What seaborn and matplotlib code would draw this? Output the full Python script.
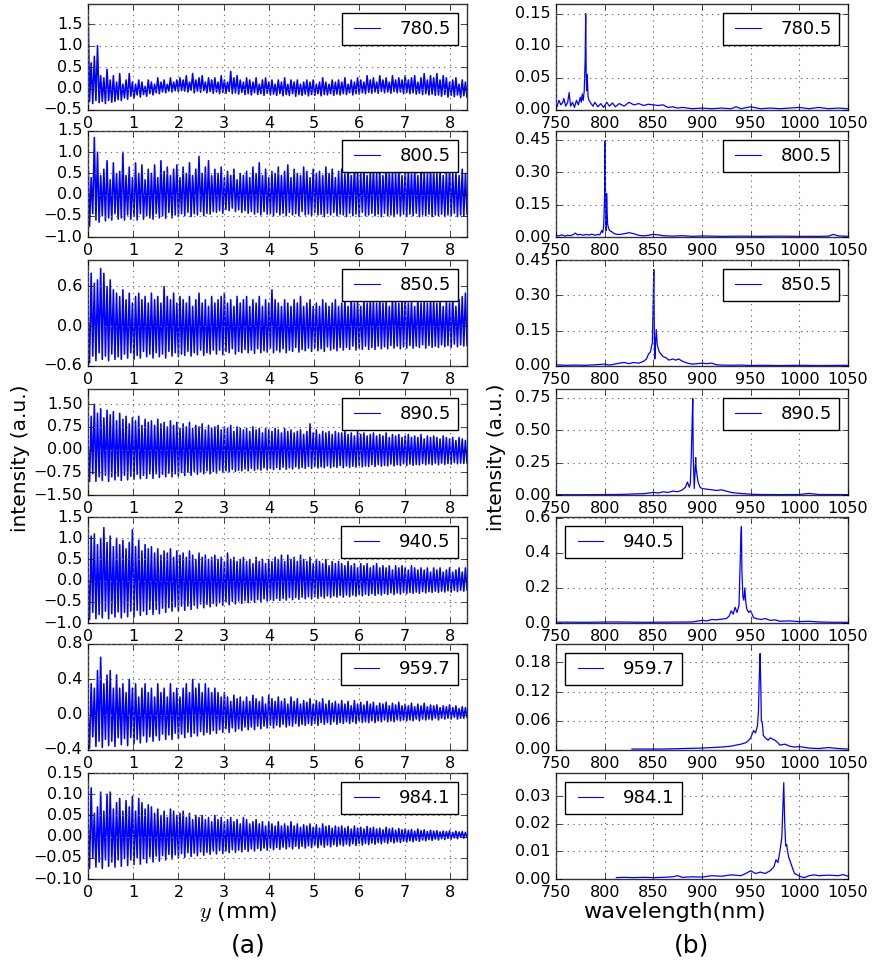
import numpy as np
import pandas as pd
import matplotlib
matplotlib.use("Agg")
import matplotlib.pyplot as plt
import seaborn as sns

plt.style.use("classic")
plt.rcParams.update({
    "figure.facecolor": "white",
    "savefig.facecolor": "white",
    "font.family": ["DejaVu Sans"],
    "mathtext.fontset": "cm",
    "axes.linewidth": 1.0,
    "axes.edgecolor": "#333333",
    "xtick.direction": "in",
    "ytick.direction": "in",
    "xtick.major.size": 4,
    "ytick.major.size": 4,
})

# ---------------------------------------------------------------------------
# data
# ---------------------------------------------------------------------------
labels = ["780.5", "800.5", "850.5", "890.5", "940.5", "959.7", "984.1"]
Y_MAX = 8.38  # scan length (mm)

# interferograms: successive fringe maxima / minima along the scan
peaks_780 = [1.93, 0.60, 0.75, 1.00, 0.30, 0.25, 0.45, 0.20, 0.30, 0.15,
             0.35, 0.10, 0.20, 0.35, 0.15, 0.10, 0.20, 0.15, 0.05, 0.20,
             0.15, 0.10, 0.25, 0.15, 0.20, 0.10, 0.25, 0.15, 0.20, 0.25,
             0.20, 0.30, 0.15, 0.35, 0.20, 0.25, 0.30, 0.15, 0.25, 0.20,
             0.25, 0.15, 0.30, 0.20, 0.15, 0.40, 0.25, 0.30, 0.20, 0.15,
             0.25, 0.20, 0.15, 0.25, 0.10, 0.20, 0.25, 0.15, 0.20, 0.10,
             0.20, 0.15, 0.25, 0.10, 0.20, 0.15, 0.20, 0.10, 0.15, 0.20,
             0.15, 0.20, 0.10, 0.15, 0.25, 0.15, 0.10, 0.20, 0.15, 0.20,
             0.15, 0.25, 0.10, 0.20, 0.15, 0.25, 0.20, 0.15, 0.30, 0.20,
             0.25, 0.15, 0.30, 0.20, 0.25, 0.15, 0.30, 0.20, 0.25, 0.20,
             0.30, 0.20, 0.25, 0.30, 0.15, 0.25, 0.35, 0.20, 0.30, 0.25,
             0.35, 0.20, 0.30, 0.25, 0.15, 0.20, 0.25, 0.10, 0.20, 0.15]
troughs_780 = [-0.30, -0.35, -0.28, -0.33, -0.30, -0.35, -0.28, -0.32, -0.30, -0.26,
               -0.28, -0.22, -0.25, -0.18, -0.22, -0.15, -0.20, -0.14, -0.18, -0.12,
               -0.15, -0.10, -0.12, -0.08, -0.10, -0.06, -0.08, -0.05, -0.07, -0.05,
               -0.06, -0.08, -0.04, -0.10, -0.06, -0.09, -0.05, -0.10, -0.07, -0.11,
               -0.08, -0.12, -0.09, -0.11, -0.07, -0.12, -0.10, -0.13, -0.09, -0.14,
               -0.12, -0.15, -0.10, -0.14, -0.12, -0.16, -0.11, -0.15, -0.13, -0.16,
               -0.12, -0.17, -0.14, -0.16, -0.12, -0.18, -0.14, -0.16, -0.13, -0.17,
               -0.14, -0.16, -0.12, -0.17, -0.14, -0.15, -0.12, -0.16, -0.13, -0.15,
               -0.12, -0.14, -0.10, -0.15, -0.12, -0.13, -0.10, -0.12, -0.09, -0.11,
               -0.08, -0.11, -0.07, -0.10, -0.08, -0.11, -0.07, -0.10, -0.08, -0.12,
               -0.09, -0.12, -0.10, -0.13, -0.11, -0.14, -0.12, -0.15, -0.13, -0.16,
               -0.15, -0.18, -0.14, -0.20, -0.16, -0.19, -0.15, -0.21, -0.17, -0.20]

peaks_800 = [0.90, 0.40, 1.35, 1.00, 0.45, 0.60, 0.80, 0.35, 0.75, 0.50,
             0.55, 1.00, 0.45, 0.65, 0.40, 0.75, 0.50, 0.70, 0.35, 0.60,
             0.50, 0.70, 0.40, 0.80, 0.55, 0.65, 0.45, 0.60, 0.70, 0.40,
             0.65, 0.50, 0.75, 0.45, 0.60, 0.90, 0.50, 0.65, 0.80, 0.45,
             0.60, 0.50, 0.65, 0.40, 0.55, 0.45, 0.60, 0.35, 0.50, 0.45,
             0.55, 0.40, 0.65, 0.50, 0.75, 0.45, 0.60, 0.40, 0.55, 0.50,
             0.65, 0.45, 0.55, 0.70, 0.40, 0.60, 0.50, 0.45, 0.65, 0.55,
             0.40, 0.60, 0.50, 0.55, 0.45, 0.65, 0.50, 0.60, 0.40, 0.55,
             0.60, 0.50, 0.65, 0.45, 0.70, 0.55, 0.50, 0.60, 0.45, 0.55,
             0.65, 0.50, 0.60, 0.45, 0.70, 0.55, 0.60, 0.50, 0.65, 0.45,
             0.55, 0.60, 0.50, 0.65, 0.45, 0.60, 0.55, 0.50, 0.65, 0.60,
             0.50, 0.60, 0.45, 0.55, 0.65, 0.50, 0.55, 0.45, 0.60, 0.50]
troughs_800 = [-0.75, -0.45, -0.60, -0.65, -0.50, -0.62, -0.55, -0.60, -0.45, -0.58,
               -0.55, -0.60, -0.48, -0.58, -0.52, -0.60, -0.45, -0.58, -0.50, -0.55,
               -0.58, -0.45, -0.55, -0.50, -0.56, -0.42, -0.55, -0.48, -0.52, -0.45,
               -0.50, -0.42, -0.52, -0.45, -0.48, -0.40, -0.50, -0.44, -0.46, -0.40,
               -0.42, -0.38, -0.44, -0.35, -0.38, -0.32, -0.40, -0.36, -0.42, -0.38,
               -0.44, -0.40, -0.46, -0.42, -0.48, -0.40, -0.46, -0.44, -0.50, -0.42,
               -0.48, -0.44, -0.50, -0.42, -0.48, -0.45, -0.50, -0.40, -0.48, -0.46,
               -0.50, -0.42, -0.48, -0.46, -0.52, -0.44, -0.48, -0.42, -0.50, -0.46,
               -0.48, -0.52, -0.44, -0.50, -0.46, -0.52, -0.42, -0.50, -0.48, -0.44,
               -0.50, -0.46, -0.52, -0.44, -0.50, -0.48, -0.52, -0.45, -0.50, -0.46,
               -0.52, -0.46, -0.50, -0.44, -0.52, -0.48, -0.50, -0.46, -0.52, -0.48,
               -0.50, -0.46, -0.52, -0.48, -0.50, -0.44, -0.52, -0.48, -0.50, -0.46]

peaks_850 = [0.25, 0.80, 0.65, 0.70, 0.87, 0.80, 0.60, 0.70, 0.55, 0.50,
             0.45, 0.55, 0.40, 0.50, 0.35, 0.45, 0.50, 0.40, 0.45, 0.35,
             0.50, 0.40, 0.45, 0.35, 0.60, 0.45, 0.40, 0.50, 0.35, 0.45,
             0.40, 0.35, 0.45, 0.30, 0.40, 0.50, 0.35, 0.40, 0.30, 0.45,
             0.35, 0.40, 0.45, 0.50, 0.35, 0.40, 0.30, 0.45, 0.35, 0.40,
             0.45, 0.30, 0.40, 0.35, 0.45, 0.30, 0.40, 0.35, 0.55, 0.40,
             0.35, 0.30, 0.40, 0.35, 0.30, 0.40, 0.35, 0.45, 0.30, 0.35,
             0.40, 0.30, 0.35, 0.30, 0.40, 0.35, 0.30, 0.35, 0.40, 0.30,
             0.35, 0.40, 0.30, 0.45, 0.35, 0.40, 0.30, 0.40, 0.35, 0.45,
             0.40, 0.35, 0.45, 0.35, 0.40, 0.30, 0.45, 0.40, 0.35, 0.40,
             0.45, 0.35, 0.40, 0.30, 0.45, 0.35, 0.40, 0.35, 0.45, 0.40,
             0.35, 0.40, 0.30, 0.40, 0.35, 0.45, 0.30, 0.40, 0.45, 0.50]
troughs_850 = [-0.55, -0.45, -0.52, -0.40, -0.50, -0.45, -0.52, -0.42, -0.50, -0.46,
               -0.50, -0.42, -0.48, -0.40, -0.50, -0.44, -0.48, -0.38, -0.46, -0.42,
               -0.48, -0.40, -0.46, -0.42, -0.48, -0.38, -0.45, -0.40, -0.46, -0.42,
               -0.44, -0.38, -0.45, -0.40, -0.43, -0.36, -0.44, -0.40, -0.42, -0.36,
               -0.42, -0.36, -0.43, -0.38, -0.40, -0.34, -0.42, -0.38, -0.40, -0.35,
               -0.40, -0.36, -0.41, -0.34, -0.40, -0.37, -0.39, -0.33, -0.40, -0.36,
               -0.39, -0.34, -0.40, -0.36, -0.38, -0.32, -0.39, -0.35, -0.37, -0.33,
               -0.38, -0.33, -0.37, -0.34, -0.38, -0.31, -0.36, -0.34, -0.37, -0.32,
               -0.36, -0.32, -0.35, -0.30, -0.36, -0.33, -0.35, -0.30, -0.35, -0.32,
               -0.35, -0.30, -0.34, -0.31, -0.34, -0.29, -0.33, -0.30, -0.34, -0.31,
               -0.33, -0.29, -0.33, -0.30, -0.32, -0.28, -0.33, -0.29, -0.32, -0.30,
               -0.32, -0.28, -0.31, -0.29, -0.32, -0.27, -0.31, -0.28, -0.30, -0.29]

peaks_890 = [0.30, 1.10, 1.50, 1.20, 1.35, 1.05, 1.30, 1.15, 1.25, 0.95,
             1.20, 1.00, 1.10, 0.85, 1.05, 0.95, 1.10, 0.80, 1.00, 0.90,
             0.95, 0.80, 1.00, 0.85, 0.90, 0.75, 0.95, 0.80, 0.90, 0.70,
             0.85, 0.75, 0.90, 0.70, 0.80, 0.75, 0.85, 0.65, 0.80, 0.70,
             0.75, 0.80, 0.65, 0.75, 0.70, 0.80, 0.60, 0.75, 0.70, 0.65,
             0.70, 0.60, 0.75, 0.65, 0.70, 0.55, 0.70, 0.65, 0.60, 0.70,
             0.65, 0.55, 0.70, 0.60, 0.65, 0.55, 0.60, 0.65, 0.50, 0.60,
             0.85, 0.55, 0.65, 0.50, 0.60, 0.55, 0.60, 0.50, 0.60, 0.55,
             0.55, 0.60, 0.50, 0.55, 0.45, 0.60, 0.50, 0.55, 0.45, 0.50,
             0.55, 0.45, 0.50, 0.45, 0.55, 0.40, 0.50, 0.45, 0.50, 0.40,
             0.45, 0.50, 0.40, 0.45, 0.40, 0.50, 0.35, 0.45, 0.40, 0.45,
             0.40, 0.35, 0.45, 0.40, 0.35, 0.40, 0.30, 0.40, 0.35, 0.30]
troughs_890 = [-1.05, -0.80, -1.05, -0.90, -1.02, -0.85, -1.05, -0.90, -1.00, -0.88,
               -1.02, -0.85, -1.00, -0.88, -0.98, -0.82, -0.96, -0.85, -0.95, -0.80,
               -0.95, -0.80, -0.92, -0.82, -0.90, -0.78, -0.90, -0.80, -0.88, -0.76,
               -0.86, -0.75, -0.85, -0.72, -0.82, -0.74, -0.80, -0.70, -0.80, -0.72,
               -0.78, -0.68, -0.76, -0.70, -0.74, -0.65, -0.72, -0.68, -0.70, -0.64,
               -0.70, -0.62, -0.69, -0.64, -0.68, -0.60, -0.67, -0.62, -0.66, -0.60,
               -0.66, -0.58, -0.65, -0.60, -0.64, -0.57, -0.63, -0.59, -0.62, -0.56,
               -0.62, -0.56, -0.61, -0.57, -0.60, -0.54, -0.60, -0.56, -0.59, -0.53,
               -0.60, -0.54, -0.59, -0.55, -0.58, -0.52, -0.57, -0.54, -0.56, -0.50,
               -0.56, -0.50, -0.55, -0.52, -0.54, -0.48, -0.54, -0.50, -0.53, -0.47,
               -0.53, -0.48, -0.52, -0.49, -0.51, -0.46, -0.50, -0.47, -0.50, -0.45,
               -0.50, -0.45, -0.49, -0.46, -0.48, -0.43, -0.47, -0.45, -0.46, -0.44]

peaks_940 = [0.20, 1.05, 1.10, 0.85, 1.00, 1.25, 0.90, 1.05, 0.80, 1.00,
             0.85, 0.95, 0.75, 0.90, 1.20, 0.80, 0.95, 0.70, 0.85, 0.75,
             0.80, 0.65, 0.75, 0.60, 0.70, 0.65, 0.75, 0.55, 0.70, 0.60,
             0.65, 0.55, 0.70, 0.60, 0.50, 0.65, 0.55, 0.60, 0.50, 0.55,
             0.60, 0.50, 0.55, 0.45, 0.65, 0.50, 0.55, 0.45, 0.50, 0.55,
             0.45, 0.50, 0.40, 0.55, 0.45, 0.50, 0.40, 0.50, 0.45, 0.55,
             0.50, 0.60, 0.45, 0.60, 0.50, 0.55, 0.45, 0.60, 0.50, 0.45,
             0.55, 0.40, 0.50, 0.45, 0.40, 0.50, 0.35, 0.45, 0.40, 0.45,
             0.40, 0.35, 0.45, 0.35, 0.40, 0.30, 0.40, 0.35, 0.40, 0.30,
             0.35, 0.40, 0.30, 0.35, 0.30, 0.35, 0.25, 0.35, 0.30, 0.35,
             0.30, 0.25, 0.35, 0.30, 0.25, 0.30, 0.25, 0.30, 0.20, 0.30,
             0.25, 0.30, 0.20, 0.25, 0.30, 0.20, 0.25, 0.30, 0.20, 0.30]
troughs_940 = [-0.92, -0.75, -0.90, -0.80, -0.88, -0.72, -0.90, -0.78, -0.86, -0.74,
               -0.88, -0.75, -0.85, -0.72, -0.86, -0.70, -0.82, -0.72, -0.80, -0.68,
               -0.80, -0.68, -0.78, -0.65, -0.75, -0.64, -0.72, -0.62, -0.72, -0.60,
               -0.70, -0.60, -0.68, -0.58, -0.65, -0.55, -0.64, -0.56, -0.62, -0.54,
               -0.60, -0.52, -0.58, -0.50, -0.57, -0.49, -0.55, -0.48, -0.54, -0.47,
               -0.52, -0.46, -0.51, -0.45, -0.50, -0.43, -0.48, -0.44, -0.47, -0.42,
               -0.47, -0.42, -0.46, -0.40, -0.45, -0.40, -0.44, -0.39, -0.43, -0.38,
               -0.43, -0.38, -0.42, -0.37, -0.41, -0.36, -0.40, -0.36, -0.39, -0.35,
               -0.39, -0.34, -0.38, -0.34, -0.37, -0.33, -0.36, -0.32, -0.35, -0.31,
               -0.35, -0.31, -0.34, -0.30, -0.33, -0.29, -0.33, -0.29, -0.32, -0.28,
               -0.31, -0.28, -0.30, -0.27, -0.30, -0.26, -0.29, -0.26, -0.28, -0.25,
               -0.28, -0.25, -0.27, -0.24, -0.27, -0.23, -0.26, -0.23, -0.25, -0.22]

peaks_960 = [0.05, 0.35, 0.30, 0.50, 0.65, 0.35, 0.45, 0.50, 0.30, 0.45,
             0.30, 0.35, 0.25, 0.40, 0.30, 0.35, 0.20, 0.30, 0.35, 0.25,
             0.30, 0.20, 0.35, 0.25, 0.30, 0.20, 0.35, 0.25, 0.30, 0.20,
             0.30, 0.35, 0.25, 0.40, 0.30, 0.35, 0.25, 0.35, 0.30, 0.25,
             0.30, 0.25, 0.20, 0.25, 0.20, 0.15, 0.22, 0.18, 0.20, 0.15,
             0.20, 0.15, 0.22, 0.18, 0.15, 0.20, 0.12, 0.22, 0.18, 0.15,
             0.20, 0.15, 0.18, 0.12, 0.20, 0.15, 0.18, 0.12, 0.16, 0.14,
             0.18, 0.12, 0.16, 0.14, 0.18, 0.12, 0.16, 0.13, 0.15, 0.12,
             0.16, 0.12, 0.15, 0.10, 0.16, 0.12, 0.14, 0.11, 0.15, 0.12,
             0.14, 0.10, 0.13, 0.12, 0.14, 0.10, 0.13, 0.11, 0.14, 0.10,
             0.12, 0.10, 0.13, 0.09, 0.12, 0.10, 0.13, 0.09, 0.11, 0.10,
             0.11, 0.08, 0.10, 0.09, 0.11, 0.08, 0.10, 0.07, 0.09, 0.08]
troughs_960 = [-0.38, -0.25, -0.36, -0.30, -0.37, -0.28, -0.35, -0.30, -0.36, -0.26,
               -0.34, -0.27, -0.35, -0.26, -0.33, -0.28, -0.32, -0.24, -0.31, -0.25,
               -0.30, -0.24, -0.29, -0.22, -0.28, -0.23, -0.28, -0.21, -0.27, -0.22,
               -0.26, -0.20, -0.25, -0.21, -0.24, -0.19, -0.23, -0.20, -0.22, -0.18,
               -0.21, -0.17, -0.20, -0.16, -0.20, -0.15, -0.19, -0.16, -0.18, -0.14,
               -0.17, -0.14, -0.17, -0.13, -0.16, -0.13, -0.15, -0.12, -0.15, -0.12,
               -0.14, -0.11, -0.14, -0.12, -0.13, -0.10, -0.13, -0.11, -0.12, -0.10,
               -0.12, -0.10, -0.12, -0.09, -0.11, -0.09, -0.11, -0.08, -0.11, -0.09,
               -0.10, -0.08, -0.10, -0.08, -0.10, -0.07, -0.09, -0.08, -0.09, -0.07,
               -0.09, -0.07, -0.08, -0.06, -0.08, -0.07, -0.08, -0.06, -0.07, -0.06,
               -0.07, -0.06, -0.07, -0.05, -0.07, -0.05, -0.06, -0.05, -0.06, -0.04,
               -0.06, -0.04, -0.05, -0.04, -0.05, -0.03, -0.05, -0.04, -0.04, -0.03]

peaks_984 = [0.050, 0.115, 0.055, 0.070, 0.105, 0.060, 0.100, 0.105, 0.065, 0.080,
             0.090, 0.060, 0.085, 0.070, 0.095, 0.060, 0.090, 0.080, 0.065, 0.075,
             0.070, 0.055, 0.065, 0.050, 0.060, 0.045, 0.065, 0.060, 0.050, 0.055,
             0.060, 0.045, 0.055, 0.040, 0.050, 0.045, 0.050, 0.040, 0.045, 0.035,
             0.050, 0.040, 0.045, 0.035, 0.040, 0.045, 0.035, 0.040, 0.030, 0.045,
             0.040, 0.030, 0.035, 0.040, 0.030, 0.035, 0.025, 0.035, 0.030, 0.025,
             0.035, 0.025, 0.030, 0.025, 0.035, 0.025, 0.030, 0.022, 0.028, 0.025,
             0.030, 0.022, 0.028, 0.020, 0.030, 0.024, 0.026, 0.020, 0.025, 0.022,
             0.025, 0.020, 0.024, 0.018, 0.025, 0.020, 0.022, 0.018, 0.024, 0.020,
             0.022, 0.018, 0.020, 0.016, 0.022, 0.018, 0.020, 0.015, 0.019, 0.016,
             0.018, 0.015, 0.017, 0.013, 0.018, 0.014, 0.016, 0.012, 0.015, 0.013,
             0.014, 0.011, 0.013, 0.012, 0.014, 0.010, 0.013, 0.011, 0.012, 0.010]
troughs_984 = [-0.075, -0.050, -0.072, -0.060, -0.075, -0.055, -0.070, -0.060, -0.072, -0.055,
               -0.070, -0.052, -0.068, -0.055, -0.066, -0.050, -0.065, -0.052, -0.062, -0.048,
               -0.060, -0.046, -0.058, -0.045, -0.055, -0.042, -0.053, -0.043, -0.050, -0.040,
               -0.049, -0.038, -0.047, -0.039, -0.045, -0.036, -0.044, -0.037, -0.042, -0.034,
               -0.041, -0.033, -0.040, -0.034, -0.038, -0.031, -0.037, -0.032, -0.036, -0.030,
               -0.035, -0.029, -0.034, -0.028, -0.033, -0.027, -0.032, -0.027, -0.031, -0.026,
               -0.030, -0.025, -0.029, -0.024, -0.029, -0.023, -0.028, -0.023, -0.027, -0.022,
               -0.026, -0.021, -0.026, -0.020, -0.025, -0.020, -0.024, -0.019, -0.023, -0.019,
               -0.022, -0.018, -0.022, -0.017, -0.021, -0.016, -0.020, -0.016, -0.019, -0.015,
               -0.018, -0.014, -0.017, -0.013, -0.016, -0.012, -0.015, -0.012, -0.014, -0.011,
               -0.013, -0.010, -0.012, -0.009, -0.011, -0.008, -0.010, -0.007, -0.009, -0.006,
               -0.008, -0.005, -0.007, -0.004, -0.006, -0.003, -0.005, -0.002, -0.004, -0.001]

# spectra: wavelength (nm) and intensity (a.u.)
wl_780 = [750, 751, 753, 755, 757, 758, 760, 762, 763.5, 765, 767, 769, 771, 773, 775,
          776, 777, 778, 779, 780, 780.5, 781, 781.5, 782, 783, 784, 786, 788, 790,
          793, 796, 799, 802, 805, 808, 811, 815, 820, 825, 830, 835, 840, 845, 850,
          855, 860, 865, 870, 875, 880, 890, 900, 910, 920, 930, 935, 940, 950, 960,
          970, 980, 990, 1000, 1010, 1020, 1030, 1040, 1050]
sp_780 = [0.012, 0.005, 0.015, 0.008, 0.012, 0.018, 0.006, 0.012, 0.027, 0.006, 0.012,
          0.004, 0.015, 0.008, 0.020, 0.012, 0.025, 0.015, 0.030, 0.080, 0.150, 0.060,
          0.030, 0.055, 0.020, 0.015, 0.010, 0.006, 0.012, 0.005, 0.010, 0.004, 0.012,
          0.006, 0.011, 0.005, 0.010, 0.006, 0.012, 0.008, 0.010, 0.007, 0.009, 0.008,
          0.007, 0.008, 0.004, 0.005, 0.003, 0.004, 0.002, 0.003, 0.002, 0.003, 0.002,
          0.005, 0.002, 0.005, 0.002, 0.003, 0.002, 0.003, 0.004, 0.002, 0.004, 0.002,
          0.003, 0.002]

wl_800 = [750, 753, 756, 759, 762, 765, 768, 770, 772, 775, 778, 781, 784, 787, 790, 793,
          795, 797, 798, 799, 800, 800.5, 801, 801.5, 802, 802.5, 803, 804, 805, 807,
          810, 813, 816, 820, 825, 830, 835, 840, 845, 850, 855, 860, 870, 880, 890,
          900, 920, 940, 960, 980, 1000, 1020, 1030, 1035, 1040, 1050]
sp_800 = [0.008, 0.005, 0.010, 0.004, 0.008, 0.006, 0.012, 0.018, 0.010, 0.012, 0.008,
          0.012, 0.009, 0.013, 0.008, 0.012, 0.010, 0.030, 0.020, 0.050, 0.200, 0.445,
          0.100, 0.030, 0.200, 0.120, 0.060, 0.040, 0.030, 0.025, 0.015, 0.012, 0.012,
          0.015, 0.020, 0.015, 0.008, 0.005, 0.008, 0.012, 0.010, 0.006, 0.004, 0.006,
          0.003, 0.005, 0.003, 0.004, 0.003, 0.004, 0.003, 0.003, 0.004, 0.012, 0.005,
          0.003]

wl_850 = [750, 760, 770, 780, 790, 800, 805, 810, 815, 820, 825, 830, 835, 840, 843, 845,
          847, 849, 850, 850.5, 851, 851.5, 852, 853, 854, 856, 858, 860, 863, 866, 870,
          873, 876, 880, 885, 890, 895, 900, 905, 910, 915, 920, 930, 940, 950, 960,
          980, 1000, 1020, 1050]
sp_850 = [0.005, 0.003, 0.004, 0.003, 0.005, 0.008, 0.004, 0.008, 0.012, 0.015, 0.010,
          0.015, 0.012, 0.020, 0.030, 0.050, 0.060, 0.100, 0.300, 0.410, 0.150, 0.030,
          0.080, 0.155, 0.090, 0.060, 0.050, 0.040, 0.035, 0.025, 0.030, 0.025, 0.030,
          0.020, 0.012, 0.008, 0.010, 0.012, 0.010, 0.012, 0.005, 0.004, 0.003, 0.004,
          0.002, 0.003, 0.002, 0.003, 0.002, 0.003]

wl_890 = [750, 770, 790, 810, 820, 830, 840, 850, 855, 860, 865, 870, 875, 880, 883, 885,
          887, 888, 889, 890, 890.5, 891, 892, 893, 893.5, 894, 896, 898, 900, 905, 910,
          915, 920, 925, 930, 935, 940, 950, 960, 980, 1000, 1010, 1020, 1050]
sp_890 = [0.003, 0.002, 0.003, 0.004, 0.005, 0.008, 0.010, 0.020, 0.015, 0.025, 0.020,
          0.030, 0.025, 0.040, 0.060, 0.100, 0.060, 0.090, 0.300, 0.600, 0.745, 0.300,
          0.050, 0.200, 0.290, 0.200, 0.100, 0.060, 0.050, 0.045, 0.040, 0.035, 0.040,
          0.030, 0.020, 0.015, 0.012, 0.006, 0.004, 0.003, 0.004, 0.012, 0.004, 0.003]

wl_940 = [750, 780, 810, 840, 870, 890, 900, 905, 910, 915, 920, 925, 928, 930, 932, 934,
          936, 938, 939, 940, 940.5, 941, 942, 943, 944, 945, 946, 948, 950, 953, 956,
          960, 965, 970, 975, 980, 990, 1000, 1010, 1020, 1035, 1050]
sp_940 = [0.005, 0.004, 0.006, 0.004, 0.005, 0.006, 0.015, 0.012, 0.020, 0.018, 0.022,
          0.025, 0.040, 0.070, 0.050, 0.090, 0.060, 0.100, 0.300, 0.500, 0.550, 0.300,
          0.150, 0.130, 0.200, 0.120, 0.080, 0.060, 0.070, 0.030, 0.025, 0.020, 0.025,
          0.015, 0.018, 0.010, 0.012, 0.008, 0.010, 0.006, 0.004, 0.004]

wl_960 = [828, 840, 860, 880, 900, 910, 920, 930, 935, 940, 945, 948, 950, 953, 955, 957,
          958, 959, 959.7, 960.5, 961, 962, 963, 965, 968, 970, 973, 975, 978, 980, 985,
          990, 995, 1000, 1010, 1020, 1030, 1040, 1050]
sp_960 = [0.002, 0.002, 0.002, 0.003, 0.004, 0.005, 0.006, 0.008, 0.010, 0.012, 0.015,
          0.020, 0.025, 0.040, 0.035, 0.050, 0.080, 0.160, 0.198, 0.120, 0.060, 0.055,
          0.030, 0.025, 0.020, 0.025, 0.022, 0.020, 0.015, 0.010, 0.012, 0.008, 0.006,
          0.007, 0.004, 0.003, 0.005, 0.003, 0.002]

wl_984 = [812, 820, 830, 840, 850, 860, 870, 875, 880, 890, 900, 910, 920, 930, 940, 945,
          950, 955, 960, 965, 970, 974, 976, 978, 980, 982, 983, 984, 985, 986, 987, 988,
          989, 991, 993, 995, 998, 1000, 1005, 1010, 1015, 1020, 1030, 1040, 1045, 1050]
sp_984 = [0.0005, 0.0006, 0.0005, 0.0006, 0.0005, 0.0006, 0.0008, 0.0012, 0.0006, 0.0008,
          0.0007, 0.0012, 0.0010, 0.0015, 0.0012, 0.0020, 0.0030, 0.0020, 0.0025, 0.0020,
          0.0030, 0.0045, 0.0070, 0.0060, 0.0100, 0.0150, 0.0250, 0.0350, 0.0200, 0.0120,
          0.0125, 0.0100, 0.0080, 0.0060, 0.0040, 0.0020, 0.0015, 0.0010, 0.0005, 0.0012,
          0.0015, 0.0012, 0.0014, 0.0012, 0.0016, 0.0010]

left_peaks = [peaks_780, peaks_800, peaks_850, peaks_890, peaks_940, peaks_960, peaks_984]
left_troughs = [troughs_780, troughs_800, troughs_850, troughs_890, troughs_940,
                troughs_960, troughs_984]
spec_wl = [wl_780, wl_800, wl_850, wl_890, wl_940, wl_960, wl_984]
spec_val = [sp_780, sp_800, sp_850, sp_890, sp_940, sp_960, sp_984]

left_ylim = [(-0.5, 1.97), (-1.0, 1.5), (-0.6, 1.0), (-1.5, 2.0), (-1.0, 1.5),
             (-0.4, 0.8), (-0.10, 0.15)]
left_yticks = [[-0.5, 0.0, 0.5, 1.0, 1.5],
               [-1.0, -0.5, 0.0, 0.5, 1.0, 1.5],
               [-0.6, 0.0, 0.6],
               [-1.5, -0.75, 0.0, 0.75, 1.5],
               [-1.0, -0.5, 0.0, 0.5, 1.0, 1.5],
               [-0.4, 0.0, 0.4, 0.8],
               [-0.10, -0.05, 0.0, 0.05, 0.10, 0.15]]
right_yticks = [[0.0, 0.05, 0.10, 0.15],
                [0.0, 0.15, 0.30, 0.45],
                [0.0, 0.15, 0.30, 0.45],
                [0.0, 0.25, 0.50, 0.75],
                [0.0, 0.2, 0.4, 0.6],
                [0.0, 0.06, 0.12, 0.18],
                [0.0, 0.01, 0.02, 0.03]]
right_legend_loc = ["upper right"] * 4 + ["upper left"] * 3

# ---------------------------------------------------------------------------
# figure
# ---------------------------------------------------------------------------
W, H = 873, 966
fig = plt.figure(figsize=(W / 100, H / 100), dpi=100)

row_tops = [4, 131, 260, 389, 517, 644, 773]
row_h = 106
LX, LW = 88, 379
RX, RW = 556, 292

LEG = dict(fontsize=13, borderpad=0.4, handlelength=2.0, handletextpad=0.8,
           fancybox=False, framealpha=1.0, edgecolor="black", borderaxespad=0.5)


def style_axes(ax):
    ax.grid(True, linestyle=":", color="0.45", linewidth=0.8)
    ax.tick_params(labelsize=11.5, direction="in", top=True, right=True)
    ax.set_xlabel("")
    ax.set_ylabel("")


for i, top in enumerate(row_tops):
    bottom = 1 - (top + row_h) / H

    # interferogram
    axl = fig.add_axes([LX / W, bottom, LW / W, row_h / H])
    n = len(left_peaks[i])
    trace = np.empty(2 * n)
    trace[0::2] = left_peaks[i]
    trace[1::2] = left_troughs[i]
    df_l = pd.DataFrame({"y_mm": np.linspace(0, Y_MAX, 2 * n), "intensity": trace})
    sns.lineplot(data=df_l, x="y_mm", y="intensity", ax=axl, estimator=None,
                 sort=False, label=labels[i], color="#0000ff", linewidth=1.15)
    axl.set_xlim(0, Y_MAX)
    axl.set_ylim(*left_ylim[i])
    axl.set_xticks(range(0, 9))
    axl.set_yticks(left_yticks[i])
    style_axes(axl)
    axl.legend(loc="upper right", **LEG)
    for h in axl.get_legend().get_lines():
        h.set_linewidth(0.8)

    # spectrum
    axr = fig.add_axes([RX / W, bottom, RW / W, row_h / H])
    df_r = pd.DataFrame({"wavelength": spec_wl[i], "intensity": spec_val[i]})
    sns.lineplot(data=df_r, x="wavelength", y="intensity", ax=axr, estimator=None,
                 sort=False, label=labels[i], color="#0000ff", linewidth=0.9)
    axr.set_xlim(750, 1050)
    axr.set_ylim(0, 1.1 * max(spec_val[i]))
    axr.set_xticks(range(750, 1051, 50))
    axr.set_yticks(right_yticks[i])
    style_axes(axr)
    axr.legend(loc=right_legend_loc[i], **LEG)
    for h in axr.get_legend().get_lines():
        h.set_linewidth(0.8)

# shared labels
fig.text(21 / W, 1 - 458 / H, "intensity (a.u.)", rotation=90, ha="center",
         va="center", fontsize=14.5)
fig.text(496 / W, 1 - 457 / H, "intensity (a.u.)", rotation=90, ha="center",
         va="center", fontsize=14.5)
fig.text(238 / W, 1 - 912 / H, r"$y$ (mm)", ha="center", va="center", fontsize=16)
fig.text(674 / W, 1 - 912 / H, "wavelength(nm)", ha="center", va="center", fontsize=16)
fig.text(248 / W, 1 - 945 / H, "(a)", ha="center", va="center", fontsize=18)
fig.text(692 / W, 1 - 945 / H, "(b)", ha="center", va="center", fontsize=18)

fig.savefig("out.png", dpi=100)
